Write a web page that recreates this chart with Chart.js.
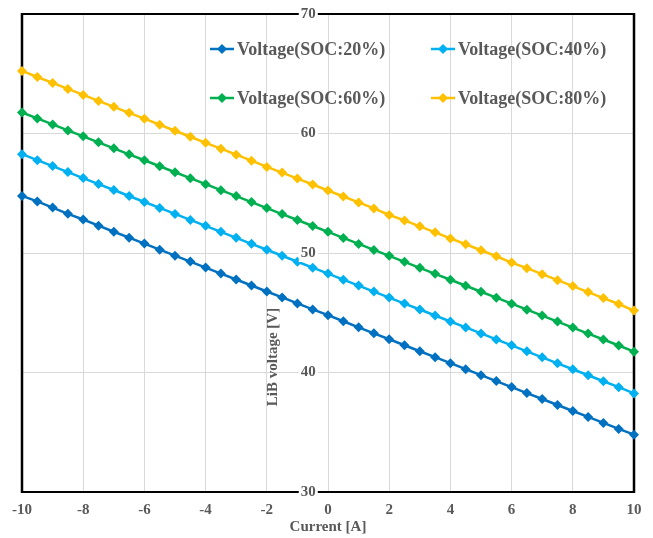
<!DOCTYPE html>
<html>
<head>
<meta charset="utf-8">
<script src="https://cdn.jsdelivr.net/npm/chart.js@4.4.0/dist/chart.umd.min.js"></script>
<style>
  html, body { margin: 0; padding: 0; background: #fff; }
  #wrap { width: 653px; height: 538px; }
</style>
</head>
<body>
<div id="wrap"><canvas id="chart" width="653" height="538"></canvas></div>
<script>
// Current [A], one point every 0.5 A
const current = [-10, -9.5, -9, -8.5, -8, -7.5, -7, -6.5, -6, -5.5, -5, -4.5, -4, -3.5, -3, -2.5, -2, -1.5, -1, -0.5,
  0, 0.5, 1, 1.5, 2, 2.5, 3, 3.5, 4, 4.5, 5, 5.5, 6, 6.5, 7, 7.5, 8, 8.5, 9, 9.5, 10];

// LiB voltage [V]
const soc20 = [54.78, 54.32, 53.80, 53.28, 52.80, 52.29, 51.78, 51.28, 50.79, 50.28, 49.78, 49.28, 48.78, 48.28, 47.78, 47.28, 46.78, 46.28, 45.78, 45.28,
  44.80, 44.29, 43.78, 43.28, 42.78, 42.28, 41.78, 41.28, 40.78, 40.28, 39.78, 39.28, 38.78, 38.28, 37.78, 37.28, 36.78, 36.28, 35.78, 35.28, 34.80];
const soc40 = [58.27, 57.77, 57.27, 56.77, 56.27, 55.77, 55.27, 54.77, 54.27, 53.77, 53.27, 52.77, 52.27, 51.77, 51.27, 50.77, 50.27, 49.77, 49.27, 48.77,
  48.28, 47.77, 47.27, 46.77, 46.27, 45.77, 45.27, 44.77, 44.27, 43.77, 43.27, 42.77, 42.27, 41.77, 41.27, 40.77, 40.27, 39.77, 39.27, 38.77, 38.25];
const soc60 = [61.76, 61.26, 60.76, 60.26, 59.76, 59.26, 58.76, 58.26, 57.76, 57.26, 56.76, 56.26, 55.76, 55.26, 54.76, 54.26, 53.76, 53.26, 52.76, 52.26,
  51.77, 51.26, 50.76, 50.26, 49.76, 49.26, 48.76, 48.26, 47.76, 47.26, 46.76, 46.26, 45.76, 45.26, 44.76, 44.26, 43.76, 43.26, 42.76, 42.26, 41.74];
const soc80 = [65.24, 64.73, 64.23, 63.73, 63.23, 62.73, 62.23, 61.73, 61.24, 60.73, 60.23, 59.73, 59.22, 58.73, 58.23, 57.73, 57.20, 56.73, 56.23, 55.73,
  55.23, 54.73, 54.23, 53.73, 53.18, 52.73, 52.23, 51.73, 51.22, 50.73, 50.23, 49.73, 49.20, 48.73, 48.23, 47.73, 47.23, 46.73, 46.23, 45.73, 45.18];

const seriesNames = ['Voltage(SOC:20%)', 'Voltage(SOC:40%)', 'Voltage(SOC:60%)', 'Voltage(SOC:80%)'];
const seriesColors = ['#0070C0', '#00B0F0', '#00B050', '#FFC000'];

const xTicks = [-10, -8, -6, -4, -2, 0, 2, 4, 6, 8, 10];
const yTicks = [30, 40, 50, 60, 70];

const FONT = '"Liberation Serif", "Times New Roman", serif';
const TEXT = '#595959';

function toPoints(ys) {
  return current.map((x, i) => ({ x: x, y: ys[i] }));
}

const allSeries = [soc20, soc40, soc60, soc80];

// black frame round the plot, under the lines
const framePlugin = {
  id: 'frame',
  beforeDatasetsDraw(chart) {
    const a = chart.chartArea;
    const ctx = chart.ctx;
    ctx.save();
    ctx.strokeStyle = '#000';
    ctx.lineWidth = 2;
    ctx.beginPath();
    ctx.moveTo(a.left, a.top); ctx.lineTo(a.right, a.top);
    ctx.moveTo(a.left, a.bottom); ctx.lineTo(a.right, a.bottom);
    ctx.stroke();
    ctx.lineWidth = 2.5;
    ctx.beginPath();
    ctx.moveTo(a.left, a.top - 1); ctx.lineTo(a.left, a.bottom + 1);
    ctx.moveTo(a.right, a.top - 1); ctx.lineTo(a.right, a.bottom + 1);
    ctx.stroke();
    ctx.restore();
  }
};

// legend sits inside the plot, 2 x 2
const legendPlugin = {
  id: 'innerLegend',
  afterDraw(chart) {
    const ctx = chart.ctx;
    const colX = [222, 443];
    const rowY = [49, 98];
    ctx.save();
    chart.data.datasets.forEach((ds, i) => {
      const cx = colX[i % 2];
      const cy = rowY[Math.floor(i / 2)];
      ctx.strokeStyle = ds.borderColor;
      ctx.lineWidth = 2.5;
      ctx.beginPath();
      ctx.moveTo(cx - 12, cy); ctx.lineTo(cx + 12, cy);
      ctx.stroke();
      ctx.fillStyle = ds.borderColor;
      ctx.beginPath();
      ctx.moveTo(cx, cy - 5); ctx.lineTo(cx + 5, cy); ctx.lineTo(cx, cy + 5); ctx.lineTo(cx - 5, cy);
      ctx.closePath();
      ctx.fill();
      ctx.fillStyle = TEXT;
      ctx.font = 'bold 18px ' + FONT;
      ctx.textAlign = 'left';
      ctx.textBaseline = 'middle';
      ctx.fillText(ds.label, cx + 15, cy + 1);
    });
    // y axis title, left of the centre axis
    ctx.translate(273, 357);
    ctx.rotate(-Math.PI / 2);
    ctx.font = 'bold 15px ' + FONT;
    ctx.textAlign = 'center';
    ctx.textBaseline = 'middle';
    ctx.fillText('LiB voltage [V]', 0, 0);
    ctx.restore();
  }
};

new Chart(document.getElementById('chart'), {
  type: 'line',
  data: {
    datasets: allSeries.map((ys, i) => ({
      label: seriesNames[i],
      data: toPoints(ys),
      borderColor: seriesColors[i],
      backgroundColor: seriesColors[i],
      borderWidth: 2.5,
      pointStyle: 'rectRot',
      pointRadius: 5,
      pointBorderWidth: 0,
      pointBackgroundColor: seriesColors[i],
      tension: 0,
      clip: false
    }))
  },
  options: {
    responsive: false,
    animation: false,
    devicePixelRatio: 1,
    layout: { padding: { top: 14, left: 22, right: 19, bottom: 2 } },
    plugins: {
      legend: { display: false },
      tooltip: { enabled: false }
    },
    scales: {
      x: {
        type: 'linear',
        min: -10,
        max: 10,
        afterBuildTicks: (axis) => { axis.ticks = xTicks.map(v => ({ value: v })); },
        afterFit: (axis) => { axis.height = 44; },
        grid: { color: '#d9d9d9', lineWidth: 1, drawTicks: false },
        border: { display: false },
        ticks: {
          color: TEXT,
          font: { family: FONT, size: 15, weight: 'bold' },
          padding: 9,
          maxRotation: 0
        },
        title: {
          display: true,
          text: 'Current [A]',
          color: TEXT,
          font: { family: FONT, size: 15, weight: 'bold' },
          padding: { top: 0, bottom: 0 }
        }
      },
      y: {
        type: 'linear',
        min: 30,
        max: 70,
        // labels are right-aligned on this spot, a little left of I = 0
        position: { x: -0.4 },
        afterBuildTicks: (axis) => { axis.ticks = yTicks.map(v => ({ value: v })); },
        afterFit: (axis) => { axis.paddingTop = 0; axis.paddingBottom = 0; },
        grid: { color: '#d9d9d9', lineWidth: 1, drawTicks: false },
        border: { display: false },
        ticks: {
          color: TEXT,
          font: { family: FONT, size: 15, weight: 'bold' },
          z: 1,
          showLabelBackdrop: true,
          backdropColor: '#ffffff',
          backdropPadding: { left: 2, right: 2, top: 0, bottom: 0 }
        }
      }
    }
  },
  plugins: [framePlugin, legendPlugin]
});
</script>
</body>
</html>
